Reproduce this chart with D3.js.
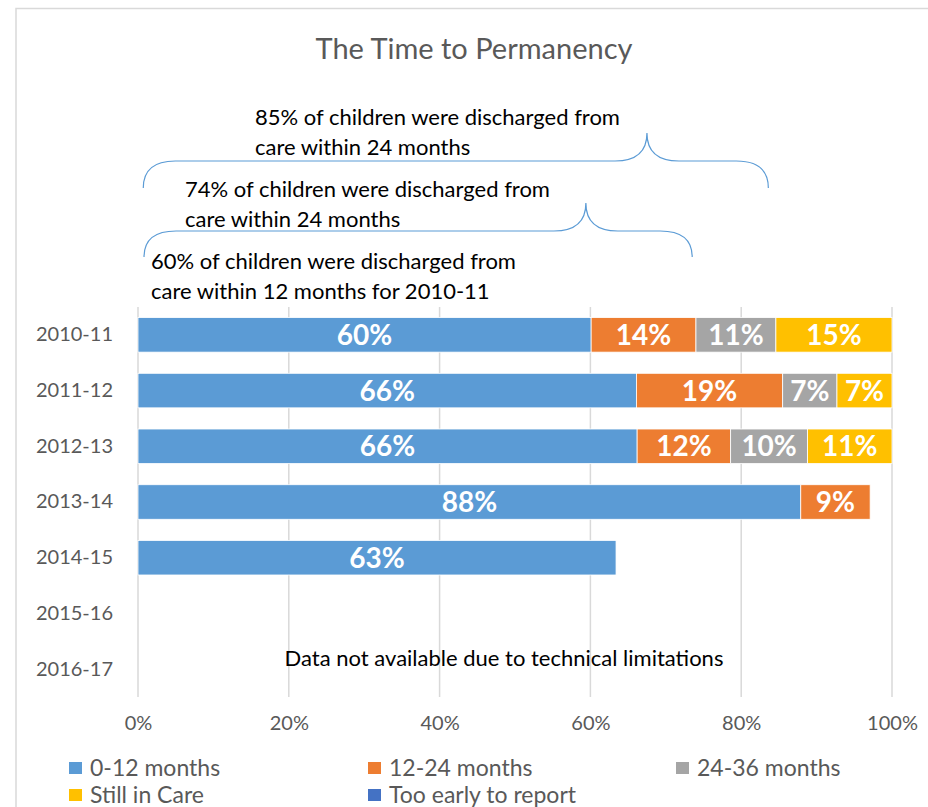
<!DOCTYPE html>
<html>
<head>
<meta charset="utf-8">
<script src="https://cdn.jsdelivr.net/npm/d3@7"></script>
<style>
  body { margin: 0; background: #fff; }
  svg { display: block; font-family: Lato, "Open Sans", sans-serif; }
</style>
</head>
<body>
<div class="chart"></div>
<script>
// page size
let svg_width = 928;
let svg_height = 807;

// data
let categories = ["2010-11", "2011-12", "2012-13", "2013-14", "2014-15", "2015-16", "2016-17"];
let series_names = ["0-12 months", "12-24 months", "24-36 months", "Still in Care", "Too early to report"];
let series_colors = ["#5B9BD5", "#ED7D31", "#A5A5A5", "#FFC000", "#4472C4"];

let months_0_12  = [60.1, 66.1, 66.2, 87.9, 63.4, 0, 0];
let months_12_24 = [13.9, 19.4, 12.4, 9.2, 0, 0, 0];
let months_24_36 = [10.6, 7.2, 10.2, 0, 0, 0, 0];
let still_in_care = [15.4, 7.3, 11.2, 0, 0, 0, 0];
let too_early    = [0, 0, 0, 0, 0, 0, 0];

let x_ticks = [0, 20, 40, 60, 80, 100];

// annotation texts, braces given in percent of the axis
let notes = [
    { lines: ["85% of children were discharged from", "care within 24 months"], x: 255, y: 125 },
    { lines: ["74% of children were discharged from", "care within 24 months"], x: 185, y: 197 },
    { lines: ["60% of children were discharged from", "care within 12 months for 2010-11"], x: 151, y: 269 }
];
let braces = [
    { from: 0.7, tip: 67.5, to: 83.6, yEnd: 188, yMid: 161, yTip: 133 },
    { from: 0.8, tip: 59.4, to: 73.5, yEnd: 257, yMid: 231, yTip: 203 }
];

// build table for the stack
let all_series = [months_0_12, months_12_24, months_24_36, still_in_care, too_early];
let table = categories.map(function(c, i) {
    let row = { year: c };
    series_names.forEach(function(s, k) { row[s] = all_series[k][i]; });
    return row;
});
let stacked = d3.stack().keys(series_names)(table);

// scales
let x_scale = d3.scaleLinear()
                .domain([0, 100])
                .range([138, 892]);

let y_scale = d3.scaleBand()
                .domain(categories)
                .range([307, 697])
                .paddingInner(0.38)
                .paddingOuter(0.19);

let svg = d3.select('.chart')
            .append('svg')
            .attr('width', svg_width)
            .attr('height', svg_height);

// chart frame
svg.append('rect')
    .attr('x', 16).attr('y', 8.5)
    .attr('width', 940).attr('height', 820)
    .attr('fill', 'none')
    .attr('stroke', '#d9d9d9')
    .attr('stroke-width', 1.5);

// title
svg.append('text')
    .attr('x', 474).attr('y', 59)
    .attr('text-anchor', 'middle')
    .attr('font-size', 29)
    .attr('fill', '#595959')
    .text('The Time to Permanency');

// gridlines
svg.append('g')
    .selectAll('line')
    .data(x_ticks)
    .enter()
    .append('line')
    .attr('x1', function(d) { return x_scale(d); })
    .attr('x2', function(d) { return x_scale(d); })
    .attr('y1', 307)
    .attr('y2', 697)
    .attr('stroke', '#d9d9d9')
    .attr('stroke-width', 1.5);

// x axis labels
let x_axis = svg.append('g')
    .attr('transform', 'translate(0,697)')
    .call(d3.axisBottom(x_scale).tickValues(x_ticks).tickSize(0).tickPadding(19)
            .tickFormat(function(d) { return d + '%'; }));
x_axis.select('.domain').remove();
x_axis.selectAll('text')
    .attr('font-family', 'Lato, sans-serif')
    .attr('font-size', 20)
    .attr('fill', '#595959');

// y axis labels
let y_axis = svg.append('g')
    .attr('transform', 'translate(113,0)')
    .call(d3.axisLeft(y_scale).tickSize(0).tickPadding(0));
y_axis.select('.domain').remove();
y_axis.selectAll('text')
    .attr('font-family', 'Lato, sans-serif')
    .attr('font-size', 20)
    .attr('fill', '#595959');

// bars
let layers = svg.selectAll('g.layer')
    .data(stacked)
    .enter()
    .append('g')
    .attr('class', 'layer')
    .attr('fill', function(d, i) { return series_colors[i]; });

layers.selectAll('rect')
    .data(function(d) { return d; })
    .enter()
    .append('rect')
    .attr('x', function(d) { return x_scale(d[0]); })
    .attr('y', function(d) { return y_scale(d.data.year); })
    .attr('width', function(d) { return x_scale(d[1]) - x_scale(d[0]); })
    .attr('height', y_scale.bandwidth())
    .attr('stroke', '#fff')
    .attr('stroke-width', 0.8);

// bar labels
layers.selectAll('text')
    .data(function(d) { return d.filter(function(p) { return p[1] - p[0] > 0; }); })
    .enter()
    .append('text')
    .attr('x', function(d) { return (x_scale(d[0]) + x_scale(d[1])) / 2; })
    .attr('y', function(d) { return y_scale(d.data.year) + y_scale.bandwidth() / 2; })
    .attr('dy', '0.36em')
    .attr('text-anchor', 'middle')
    .attr('font-size', 28)
    .attr('font-weight', 'bold')
    .attr('fill', '#fff')
    .text(function(d) { return Math.round(d[1] - d[0]) + '%'; });

// note inside the plot
svg.append('text')
    .attr('x', 504).attr('y', 666)
    .attr('text-anchor', 'middle')
    .attr('font-size', 22)
    .attr('fill', '#000')
    .text('Data not available due to technical limitations');

// braces
function bracePath(b) {
    let x0 = x_scale(b.from), xt = x_scale(b.tip), x1 = x_scale(b.to);
    let r = 32;
    return 'M' + x0 + ',' + b.yEnd +
        'Q' + x0 + ',' + b.yMid + ' ' + (x0 + r) + ',' + b.yMid +
        'L' + (xt - r) + ',' + b.yMid +
        'Q' + xt + ',' + b.yMid + ' ' + xt + ',' + b.yTip +
        'Q' + xt + ',' + b.yMid + ' ' + (xt + r) + ',' + b.yMid +
        'L' + (x1 - r) + ',' + b.yMid +
        'Q' + x1 + ',' + b.yMid + ' ' + x1 + ',' + b.yEnd;
}
svg.selectAll('path.brace')
    .data(braces)
    .enter()
    .append('path')
    .attr('class', 'brace')
    .attr('d', bracePath)
    .attr('fill', 'none')
    .attr('stroke', '#5B9BD5')
    .attr('stroke-width', 1.2);

// annotation texts
notes.forEach(function(n) {
    svg.append('g')
        .selectAll('text')
        .data(n.lines)
        .enter()
        .append('text')
        .attr('x', n.x)
        .attr('y', function(d, i) { return n.y + i * 30; })
        .attr('font-size', 22)
        .attr('fill', '#000')
        .text(function(d) { return d; });
});

// legend
let legend_x = [69, 368, 676, 69, 368];
let legend_y = [768, 768, 768, 795, 795];
let legend = svg.selectAll('g.legend')
    .data(series_names)
    .enter()
    .append('g')
    .attr('class', 'legend')
    .attr('transform', function(d, i) { return 'translate(' + legend_x[i] + ',' + legend_y[i] + ')'; });

legend.append('rect')
    .attr('x', 0).attr('y', -6)
    .attr('width', 13).attr('height', 12)
    .attr('fill', function(d, i) { return series_colors[i]; });

legend.append('text')
    .attr('x', 21)
    .attr('y', 0)
    .attr('dy', '0.36em')
    .attr('font-size', 23)
    .attr('fill', '#595959')
    .text(function(d) { return d; });
</script>
</body>
</html>
